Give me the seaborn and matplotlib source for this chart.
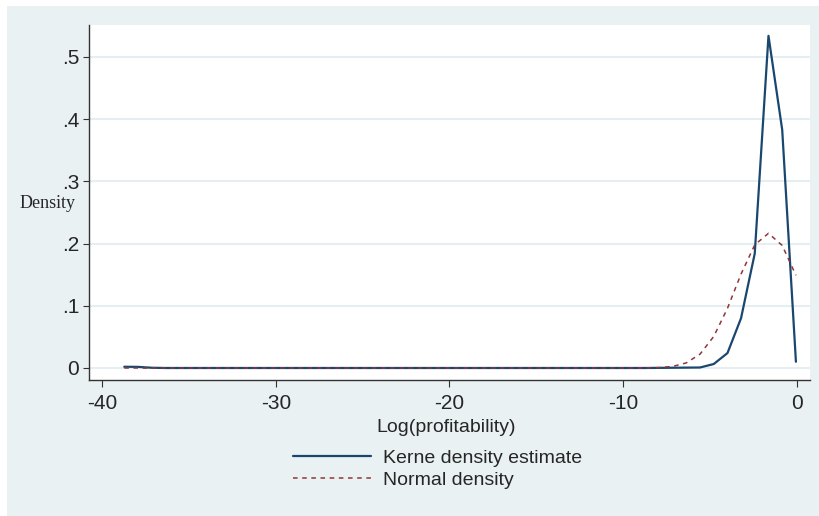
import numpy as np
import pandas as pd
import matplotlib
matplotlib.use("Agg")
import matplotlib.pyplot as plt
from matplotlib.patches import Rectangle
from matplotlib.lines import Line2D
import seaborn as sns

# evaluation grid of the density
log_profit = [-38.72, -37.93, -37.14, -36.35, -35.56, -34.78, -33.99, -33.20, -32.41, -31.62,
              -30.83, -30.04, -29.25, -28.46, -27.67, -26.89, -26.10, -25.31, -24.52, -23.73,
              -22.94, -22.15, -21.36, -20.57, -19.78, -19.00, -18.21, -17.42, -16.63, -15.84,
              -15.05, -14.26, -13.47, -12.68, -11.89, -11.11, -10.32, -9.53, -8.74, -7.95,
              -7.16, -6.37, -5.58, -4.79, -4.00, -3.22, -2.43, -1.64, -0.85, -0.06]

kernel_density = [0.002, 0.0018, 0.0004, 0, 0, 0, 0, 0, 0, 0,
                  0, 0, 0, 0, 0, 0, 0, 0, 0, 0,
                  0, 0, 0, 0, 0, 0, 0, 0, 0, 0,
                  0, 0, 0, 0, 0, 0, 0, 0, 0, 0.0002,
                  0.0004, 0.0006, 0.0008, 0.0064, 0.024, 0.080, 0.184, 0.534, 0.383, 0.010]

normal_density = [0, 0, 0, 0, 0, 0, 0, 0, 0, 0,
                  0, 0, 0, 0, 0, 0, 0, 0, 0, 0,
                  0, 0, 0, 0, 0, 0, 0, 0, 0, 0,
                  0, 0, 0, 0, 0, 0, 0, 0, 0.0001, 0.0006,
                  0.0025, 0.0082, 0.0223, 0.0507, 0.096, 0.151, 0.198, 0.2165, 0.197, 0.149]

y_ticks = [0, 0.1, 0.2, 0.3, 0.4, 0.5]
y_tick_labels = ["0", ".1", ".2", ".3", ".4", ".5"]
x_ticks = [-40, -30, -20, -10, 0]
x_tick_labels = ["-40", "-30", "-20", "-10", "0"]

df = pd.DataFrame({"x": log_profit, "kde": kernel_density, "normal": normal_density})

navy = "#1A476F"
maroon = "#90353B"
bg = "#E9F1F3"

sns.set_style("white")
plt.rcParams["font.family"] = ["Liberation Sans", "DejaVu Sans"]

fig = plt.figure(figsize=(8.2, 5.16), dpi=100)
fig.patch.set_facecolor(bg)
# thin white strips along the top and left edge
fig.patches.append(Rectangle((0, 1 - 6 / 516), 1, 6 / 516, transform=fig.transFigure,
                             facecolor="white", edgecolor="none", zorder=-10))
fig.patches.append(Rectangle((0, 0), 7 / 820, 1, transform=fig.transFigure,
                             facecolor="white", edgecolor="none", zorder=-10))

ax = fig.add_axes([89 / 820, 1 - 380 / 516, (810 - 89) / 820, (380 - 25) / 516])
ax.set_facecolor("white")

sns.lineplot(data=df, x="x", y="kde", ax=ax, color=navy, linewidth=1.6)
sns.lineplot(data=df, x="x", y="normal", ax=ax, color=maroon, linewidth=1.1,
             linestyle=(0, (3, 3)))

ax.set_xlim(-40.75, 0.75)
ax.set_ylim(-0.0193, 0.5514)
ax.set_yticks(y_ticks)
ax.set_yticklabels(y_tick_labels)
ax.set_xticks(x_ticks)
ax.set_xticklabels(x_tick_labels)
ax.grid(axis="y", color="#E6EEF1", linewidth=1.5)
ax.grid(axis="x", visible=False)
ax.set_axisbelow(True)

for s in ["top", "right"]:
    ax.spines[s].set_visible(False)
for s in ["left", "bottom"]:
    ax.spines[s].set_color("#333333")
    ax.spines[s].set_linewidth(1.0)

ax.tick_params(axis="y", direction="out", length=4, width=0.8, color="#333333",
               pad=3, labelsize=15, left=True)
ax.tick_params(axis="x", direction="out", length=5, width=0.8, color="#333333",
               pad=5, labelsize=15, bottom=True)

ax.set_ylabel("Density", rotation=0, family=["Liberation Serif"], fontsize=13)
ax.yaxis.set_label_coords((48 - 89) / 721, (380 - 204) / 355)
ax.yaxis.label.set_va("center")
ax.yaxis.label.set_ha("center")

ax.set_xlabel("Log(profitability)", fontsize=14)
ax.xaxis.set_label_coords((446 - 89) / 721, (380 - 427) / 355)
ax.xaxis.label.set_va("center")

handles = [Line2D([], [], color=navy, linewidth=1.6),
           Line2D([], [], color=maroon, linewidth=1.1, linestyle=(0, (3, 3)))]
fig.legend(handles, ["Kerne density estimate", "Normal density"],
           loc="upper left", bbox_to_anchor=(293 / 820, 1 - 449 / 516),
           frameon=False, fontsize=14, handlelength=4.0, handletextpad=0.65,
           labelspacing=0.25, borderpad=0, borderaxespad=0)

fig.savefig("out.png", dpi=100, facecolor=fig.get_facecolor())
